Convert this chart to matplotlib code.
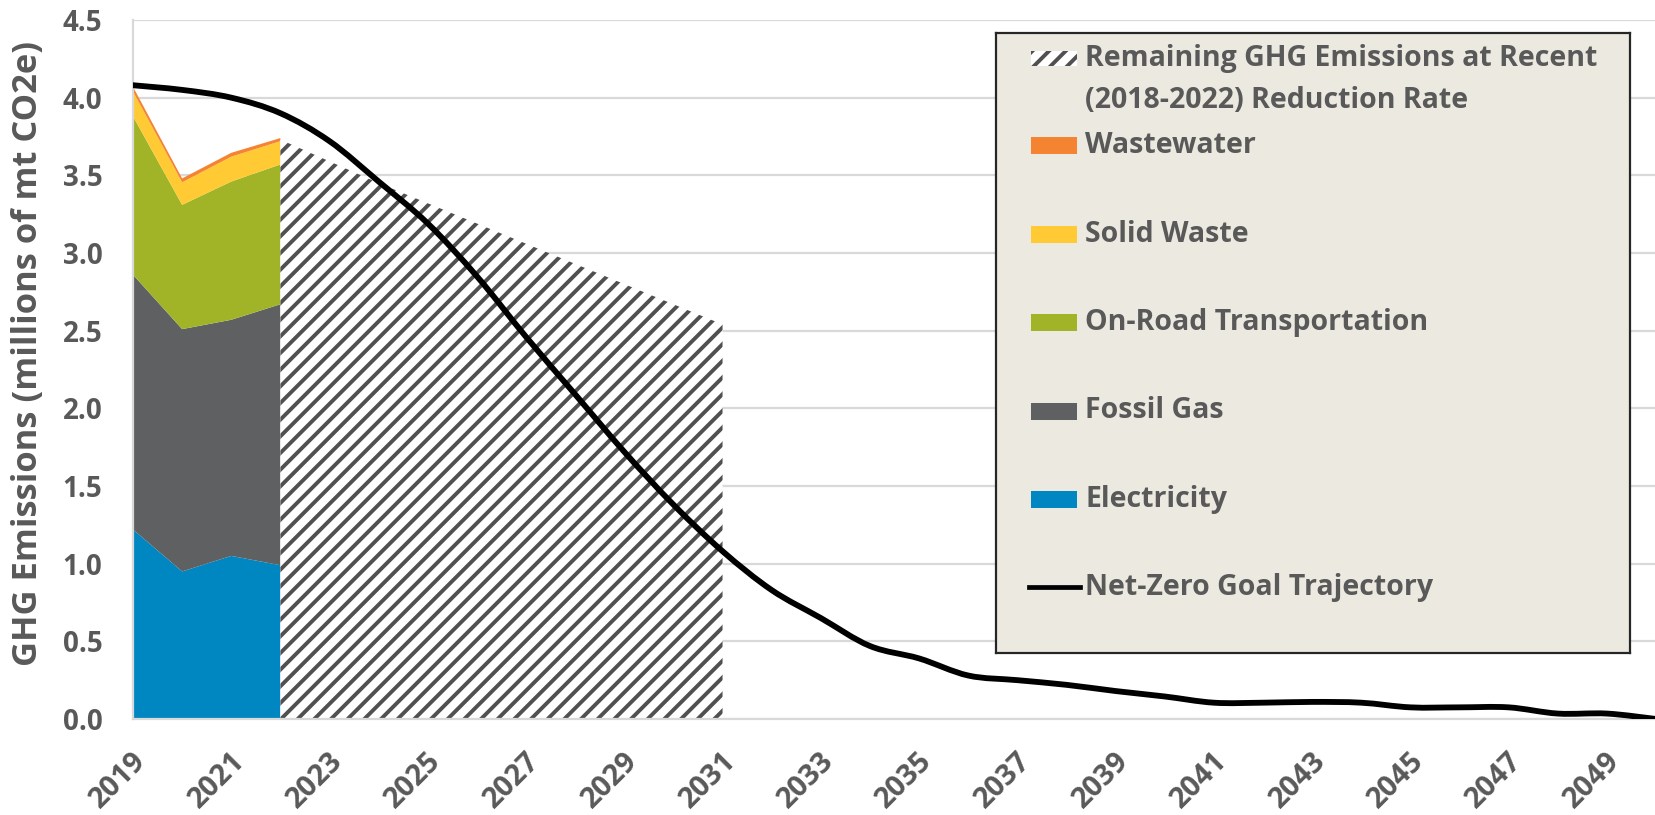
import matplotlib
matplotlib.use("Agg")
import matplotlib.pyplot as plt
from matplotlib.patches import Rectangle, PathPatch
from matplotlib.path import Path
from matplotlib.lines import Line2D
from matplotlib.transforms import ScaledTranslation

# ---------------- data ----------------
hist_years = [2019, 2020, 2021, 2022]
electricity = [1.22, 0.95, 1.05, 0.99]
fossil_gas = [1.64, 1.56, 1.52, 1.68]
on_road = [1.02, 0.80, 0.89, 0.90]
solid_waste = [0.16, 0.145, 0.16, 0.15]
wastewater = [0.03, 0.025, 0.025, 0.02]

remain_years = [2022, 2023, 2024, 2025, 2026, 2027, 2028, 2029, 2030, 2031]
remaining = [3.73, 3.59, 3.45, 3.32, 3.19, 3.06, 2.93, 2.80, 2.67, 2.54]

goal_years = list(range(2019, 2051))
net_zero = [4.08, 4.05, 4.00, 3.90, 3.72, 3.46, 3.19, 2.85, 2.46, 2.09,
            1.72, 1.38, 1.08, 0.83, 0.65, 0.47, 0.39, 0.28, 0.25, 0.22,
            0.18, 0.145, 0.105, 0.105, 0.11, 0.105, 0.075, 0.075, 0.075, 0.035,
            0.035, 0.0]

xtick_years = list(range(2019, 2050, 2))
yticks = [0.0, 0.5, 1.0, 1.5, 2.0, 2.5, 3.0, 3.5, 4.0, 4.5]

labels = ["Remaining GHG Emissions at Recent", "(2018-2022) Reduction Rate",
          "Wastewater", "Solid Waste", "On-Road Transportation", "Fossil Gas",
          "Electricity", "Net-Zero Goal Trajectory"]
colors = {"Electricity": "#0087C1", "Fossil Gas": "#5F6062",
          "On-Road Transportation": "#A1B427", "Solid Waste": "#FFCA33",
          "Wastewater": "#F58432"}

# ---------------- style ----------------
plt.rcParams['font.family'] = ['Open Sans', 'DejaVu Sans']
plt.rcParams['hatch.linewidth'] = 2.8
TXT = '#595959'
GRID = '#d9d9d9'
HATCH = '#505050'

W, H = 1656, 815
fig = plt.figure(figsize=(W / 100, H / 100), dpi=100)
ax = fig.add_axes([133 / W, 1 - 719 / H, 1 - 133 / W, (719 - 20) / H])

ax.stackplot(hist_years, electricity, fossil_gas, on_road, solid_waste, wastewater,
             colors=[colors["Electricity"], colors["Fossil Gas"],
                     colors["On-Road Transportation"], colors["Solid Waste"],
                     colors["Wastewater"]], linewidth=0, zorder=2)

ax.fill_between(remain_years, 0, remaining, facecolor='white', edgecolor=HATCH,
                hatch='//', linewidth=0, zorder=2)

# smoothed line (like a spreadsheet "smoothed line") through the data points
def smooth_path(xs, ys):
    n = len(xs)
    verts = [(xs[0], ys[0])]
    codes = [Path.MOVETO]
    for i in range(n - 1):
        x0, y0 = (xs[i - 1], ys[i - 1]) if i > 0 else (xs[i], ys[i])
        x1, y1 = xs[i], ys[i]
        x2, y2 = xs[i + 1], ys[i + 1]
        x3, y3 = (xs[i + 2], ys[i + 2]) if i + 2 < n else (xs[i + 1], ys[i + 1])
        c1 = (x1 + (x2 - x0) / 6, y1 + (y2 - y0) / 6)
        c2 = (x2 - (x3 - x1) / 6, y2 - (y3 - y1) / 6)
        verts += [c1, c2, (x2, y2)]
        codes += [Path.CURVE4] * 3
    return Path(verts, codes)

ax.add_patch(PathPatch(smooth_path(goal_years, net_zero), facecolor='none',
                       edgecolor='black', lw=4.2, capstyle='round',
                       joinstyle='round', zorder=4))

ax.set_xlim(2019, 2050)
ax.set_ylim(0, 4.5)
ax.set_axisbelow(True)
ax.yaxis.grid(True, color=GRID, lw=1.6)
ax.xaxis.grid(False)
for s in ['top', 'right']:
    ax.spines[s].set_visible(False)
for s in ['left', 'bottom']:
    ax.spines[s].set_color(GRID)
    ax.spines[s].set_linewidth(1.6)

ax.set_yticks(yticks)
ax.set_yticklabels([f"{v:.1f}" for v in yticks], fontsize=20, fontweight='bold', color=TXT)
ax.set_xticks(xtick_years)
ax.set_xticklabels([str(y) for y in xtick_years], fontsize=21, fontweight='bold',
                   color=TXT, rotation=45, ha='right', va='center',
                   rotation_mode='anchor')
ax.tick_params(axis='y', length=0, pad=22)
ax.tick_params(axis='x', length=0, pad=27)
off = ScaledTranslation(9 / 100, 0, fig.dpi_scale_trans)
for lab in ax.get_xticklabels():
    lab.set_transform(lab.get_transform() + off)

ylab = fig.text(28 / W, 1 - 354 / H, "GHG Emissions (millions of mt CO2e)",
                rotation=90, ha='center', va='center', fontsize=20,
                fontweight='bold', color=TXT)

# ---------------- legend box ----------------
L, T, R, B = 996, 33, 1630, 653
lax = fig.add_axes([L / W, 1 - B / H, (R - L) / W, (B - T) / H])
lax.set_facecolor('#ECEAE0')
lax.set_xlim(L, R)
lax.set_ylim(B, T)
lax.set_xticks([])
lax.set_yticks([])
for s in lax.spines.values():
    s.set_color('#262626')
    s.set_linewidth(1.6)

hx, hw, hh = 1031, 46, 17
text_x = 1085
rows_y = [58.5, 100.5, 145.7, 234.3, 322.9, 411.0, 499.6, 587.3]
lfs = 18
texts = []
for lab, yy in zip(labels, rows_y):
    texts.append(lax.text(text_x, yy, lab, ha='left', va='center', fontsize=lfs,
                          fontweight='bold', color=TXT))
# hatch handle
lax.add_patch(Rectangle((hx, rows_y[0] - 7.5), hw, 15, facecolor='white',
                        edgecolor=HATCH, hatch='//', linewidth=0))
for lab, yy in zip(labels[2:7], rows_y[2:7]):
    lax.add_patch(Rectangle((hx, yy - hh / 2), hw, hh, facecolor=colors[lab],
                            linewidth=0))
lax.add_line(Line2D([1029, 1080], [rows_y[7], rows_y[7]], color='black', lw=3.4))

# fit font sizes to the measured text extents
fig.canvas.draw()
r = fig.canvas.get_renderer()
w0 = texts[0].get_window_extent(r).width
new = lfs * 512 / w0
for t in texts:
    t.set_fontsize(new)
h0 = ylab.get_window_extent(r).height
ylab.set_fontsize(20 * 623 / h0)

fig.savefig('out.png', dpi=100)
